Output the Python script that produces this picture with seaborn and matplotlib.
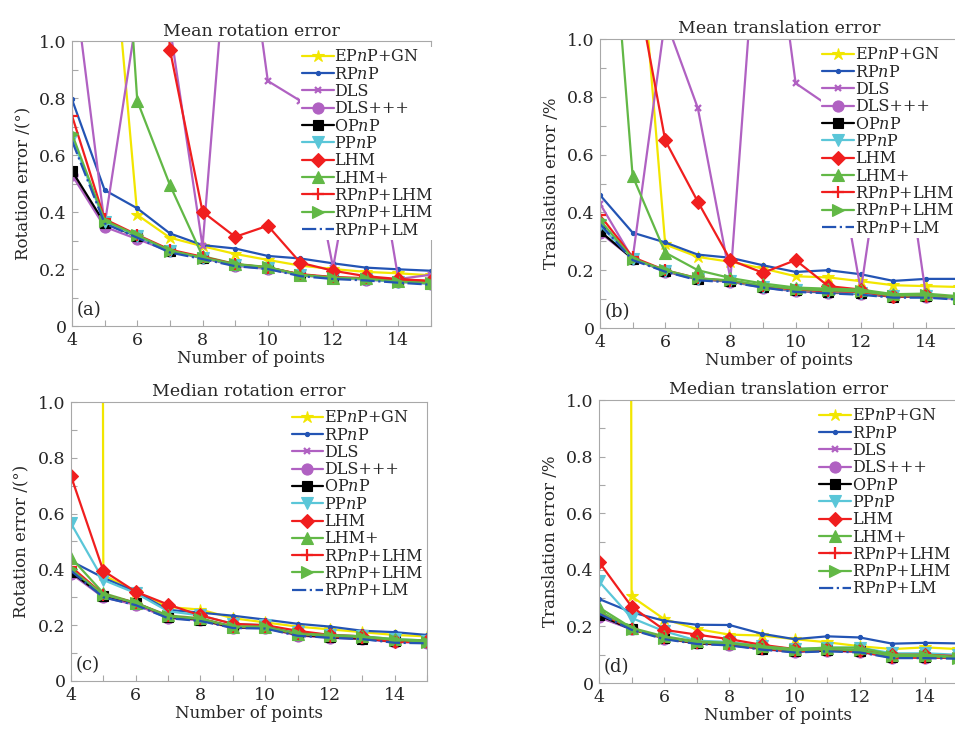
import matplotlib
matplotlib.use("Agg")
import matplotlib.pyplot as plt
import seaborn as sns
from matplotlib.ticker import FixedLocator, FuncFormatter

# Number of points on the x axis
POINTS = list(range(4, 16))

KEYS = ["epnp_gn", "rpnp", "dls", "dlsppp", "opnp", "ppnp",
        "lhm", "lhmp", "rpnp_lhm", "rpnp_lhm2", "rpnp_lm"]
LABELS = ["EP$n$P+GN", "RP$n$P", "DLS", "DLS+++", "OP$n$P", "PP$n$P",
          "LHM", "LHM+", "RP$n$P+LHM", "RP$n$P+LHM", "RP$n$P+LM"]

# (a) mean rotation error /(deg)
MEAN_ROT = {
    "epnp_gn":   [2.6, 1.69, 0.39, 0.31, 0.28, 0.253, 0.232, 0.212, 0.2, 0.19, 0.185, 0.178],
    "rpnp":      [0.795, 0.477, 0.413, 0.325, 0.284, 0.272, 0.246, 0.237, 0.22, 0.205, 0.199, 0.194],
    "dls":       [1.27, 0.355, 1.10, 1.05, 0.28, 1.7, 0.86, 0.79, 0.205, 0.85, 0.165, 0.18],
    "dlsppp":    [0.53, 0.348, 0.305, 0.262, 0.238, 0.212, 0.2, 0.178, 0.168, 0.163, 0.155, 0.148],
    "opnp":      [0.544, 0.36, 0.315, 0.265, 0.24, 0.215, 0.205, 0.18, 0.17, 0.165, 0.158, 0.15],
    "ppnp":      [0.66, 0.365, 0.315, 0.262, 0.24, 0.214, 0.203, 0.179, 0.168, 0.164, 0.155, 0.148],
    "lhm":       [5.0, 4.0, 3.0, 0.97, 0.401, 0.313, 0.352, 0.222, 0.194, 0.175, 0.165, 0.158],
    "lhmp":      [3.0, 2.5, 0.79, 0.495, 0.245, 0.218, 0.207, 0.18, 0.17, 0.167, 0.158, 0.15],
    "rpnp_lhm":  [0.738, 0.375, 0.32, 0.268, 0.243, 0.217, 0.205, 0.182, 0.172, 0.168, 0.163, 0.158],
    "rpnp_lhm2": [0.674, 0.37, 0.318, 0.265, 0.24, 0.217, 0.206, 0.18, 0.17, 0.166, 0.156, 0.15],
    "rpnp_lm":   [0.65, 0.36, 0.31, 0.258, 0.235, 0.21, 0.2, 0.175, 0.165, 0.16, 0.152, 0.145],
}

# (b) mean translation error /%
MEAN_TRANS = {
    "epnp_gn":   [2.5, 1.66, 0.289, 0.246, 0.229, 0.206, 0.179, 0.175, 0.162, 0.148, 0.145, 0.142],
    "rpnp":      [0.46, 0.33, 0.296, 0.254, 0.243, 0.217, 0.194, 0.2, 0.186, 0.163, 0.17, 0.17],
    "dls":       [0.43, 0.24, 1.07, 0.761, 0.17, 1.7, 0.847, 0.77, 0.13, 0.9, 0.11, 0.1],
    "dlsppp":    [0.33, 0.24, 0.195, 0.168, 0.16, 0.14, 0.127, 0.122, 0.118, 0.108, 0.108, 0.1],
    "opnp":      [0.335, 0.24, 0.198, 0.17, 0.162, 0.143, 0.13, 0.124, 0.12, 0.108, 0.11, 0.102],
    "ppnp":      [0.355, 0.24, 0.198, 0.17, 0.162, 0.142, 0.13, 0.125, 0.12, 0.11, 0.11, 0.102],
    "lhm":       [4.0, 1.26, 0.649, 0.437, 0.235, 0.191, 0.235, 0.145, 0.133, 0.11, 0.113, 0.105],
    "lhmp":      [1.96, 0.526, 0.261, 0.2, 0.173, 0.154, 0.14, 0.136, 0.133, 0.117, 0.119, 0.11],
    "rpnp_lhm":  [0.39, 0.245, 0.2, 0.172, 0.163, 0.145, 0.132, 0.127, 0.125, 0.108, 0.112, 0.105],
    "rpnp_lhm2": [0.373, 0.24, 0.2, 0.172, 0.165, 0.147, 0.135, 0.13, 0.127, 0.112, 0.113, 0.105],
    "rpnp_lm":   [0.36, 0.235, 0.195, 0.165, 0.158, 0.14, 0.125, 0.12, 0.115, 0.105, 0.105, 0.098],
}

# (c) median rotation error /(deg)
MED_ROT = {
    "epnp_gn":   [60.0, 0.38, 0.32, 0.265, 0.256, 0.225, 0.21, 0.195, 0.185, 0.175, 0.165, 0.16],
    "rpnp":      [0.43, 0.37, 0.32, 0.255, 0.245, 0.234, 0.22, 0.205, 0.195, 0.18, 0.175, 0.165],
    "dls":       [0.39, 0.302, 0.275, 0.228, 0.218, 0.192, 0.19, 0.165, 0.156, 0.152, 0.14, 0.138],
    "dlsppp":    [0.385, 0.30, 0.273, 0.226, 0.218, 0.19, 0.19, 0.163, 0.155, 0.15, 0.14, 0.137],
    "opnp":      [0.39, 0.305, 0.28, 0.23, 0.22, 0.192, 0.192, 0.166, 0.157, 0.152, 0.142, 0.138],
    "ppnp":      [0.565, 0.362, 0.315, 0.25, 0.235, 0.205, 0.2, 0.175, 0.165, 0.16, 0.15, 0.145],
    "lhm":       [0.735, 0.395, 0.32, 0.274, 0.235, 0.205, 0.2, 0.18, 0.165, 0.16, 0.145, 0.145],
    "lhmp":      [0.442, 0.315, 0.28, 0.235, 0.225, 0.195, 0.195, 0.17, 0.165, 0.16, 0.15, 0.145],
    "rpnp_lhm":  [0.41, 0.31, 0.28, 0.232, 0.222, 0.195, 0.193, 0.168, 0.16, 0.155, 0.14, 0.14],
    "rpnp_lhm2": [0.40, 0.31, 0.28, 0.232, 0.222, 0.195, 0.193, 0.168, 0.162, 0.157, 0.148, 0.14],
    "rpnp_lm":   [0.395, 0.30, 0.272, 0.225, 0.215, 0.19, 0.188, 0.162, 0.155, 0.15, 0.137, 0.135],
}

# (d) median translation error /%
MED_TRANS = {
    "epnp_gn":   [60.0, 0.306, 0.226, 0.191, 0.171, 0.168, 0.155, 0.144, 0.13, 0.12, 0.126, 0.12],
    "rpnp":      [0.297, 0.25, 0.22, 0.206, 0.205, 0.174, 0.155, 0.165, 0.161, 0.139, 0.142, 0.14],
    "dls":       [0.235, 0.19, 0.158, 0.14, 0.135, 0.12, 0.11, 0.115, 0.11, 0.09, 0.09, 0.088],
    "dlsppp":    [0.232, 0.19, 0.157, 0.14, 0.134, 0.12, 0.11, 0.114, 0.11, 0.09, 0.09, 0.088],
    "opnp":      [0.24, 0.19, 0.16, 0.14, 0.137, 0.122, 0.112, 0.115, 0.112, 0.092, 0.092, 0.09],
    "ppnp":      [0.359, 0.23, 0.183, 0.15, 0.145, 0.13, 0.12, 0.125, 0.125, 0.105, 0.105, 0.1],
    "lhm":       [0.428, 0.27, 0.188, 0.171, 0.155, 0.135, 0.12, 0.12, 0.115, 0.1, 0.1, 0.095],
    "lhmp":      [0.267, 0.195, 0.165, 0.147, 0.142, 0.13, 0.12, 0.125, 0.125, 0.1, 0.1, 0.092],
    "rpnp_lhm":  [0.25, 0.19, 0.16, 0.142, 0.138, 0.122, 0.112, 0.118, 0.112, 0.09, 0.09, 0.09],
    "rpnp_lhm2": [0.255, 0.192, 0.16, 0.143, 0.14, 0.125, 0.115, 0.12, 0.115, 0.095, 0.095, 0.09],
    "rpnp_lm":   [0.245, 0.188, 0.155, 0.138, 0.133, 0.118, 0.108, 0.112, 0.108, 0.088, 0.088, 0.086],
}

YELLOW = "#f2e600"
BLUE = "#2354b4"
PURPLE = "#b061c2"
CYAN = "#5ac6d8"
RED = "#f01e1e"
GREEN = "#62b846"

STYLE = {
    "epnp_gn":   dict(c=YELLOW, m="*", ms=9, ls="-"),
    "rpnp":      dict(c=BLUE, m="o", ms=3, ls="-"),
    "dls":       dict(c=PURPLE, m="x", ms=5, ls="-"),
    "dlsppp":    dict(c=PURPLE, m="o", ms=8, ls="-"),
    "opnp":      dict(c="black", m="s", ms=7, ls="-"),
    "ppnp":      dict(c=CYAN, m="v", ms=8, ls="-"),
    "lhm":       dict(c=RED, m="D", ms=7, ls="-"),
    "lhmp":      dict(c=GREEN, m="^", ms=8, ls="-"),
    "rpnp_lhm":  dict(c=RED, m="+", ms=9, ls="-"),
    "rpnp_lhm2": dict(c=GREEN, m=">", ms=8, ls="-"),
    "rpnp_lm":   dict(c=BLUE, m=None, ms=0, ls="-."),
}

sns.set_style("ticks")
plt.rcParams["font.family"] = ["DejaVu Serif"]
plt.rcParams["mathtext.fontset"] = "dejavuserif"

SPINE = "#a8a8a8"


def draw_panel(ax, values, title, ylabel, tag, leg_x):
    for key, label in zip(KEYS, LABELS):
        st = STYLE[key]
        kws = dict(color=st["c"], linestyle=st["ls"], linewidth=1.6, label=label)
        if st["m"]:
            mew = 1.6 if st["m"] in ("x", "+") else 0.8
            kws.update(marker=st["m"], markersize=st["ms"], markeredgecolor=st["c"],
                       markerfacecolor=st["c"], markeredgewidth=mew)
        sns.lineplot(x=POINTS, y=values[key], ax=ax, **kws)

    ax.set_xlim(4, 15)
    ax.set_ylim(0, 1.0)
    ax.xaxis.set_major_locator(FixedLocator([4, 6, 8, 10, 12, 14]))
    ax.xaxis.set_minor_locator(FixedLocator([5, 7, 9, 11, 13, 15]))
    ax.yaxis.set_major_locator(FixedLocator([0, 0.2, 0.4, 0.6, 0.8, 1.0]))
    ax.yaxis.set_minor_locator(FixedLocator([0.1, 0.3, 0.5, 0.7, 0.9]))
    ax.yaxis.set_major_formatter(FuncFormatter(lambda v, p: "0" if v == 0 else f"{v:.1f}"))
    ax.tick_params(which="both", direction="in", length=4, color=SPINE, width=0.8)
    ax.tick_params(which="major", labelsize=12.5, pad=4)
    for sp in ax.spines.values():
        sp.set_color(SPINE)
        sp.set_linewidth(0.8)

    ax.set_title(title, fontsize=12.5, pad=4)
    ax.set_xlabel("Number of points", fontsize=12, labelpad=1)
    ax.set_ylabel(ylabel, fontsize=12, labelpad=5)
    ax.text(0.012, 0.025, tag, transform=ax.transAxes, fontsize=13, ha="left", va="bottom")

    ax.legend(loc="upper left", bbox_to_anchor=(leg_x, 0.98), fontsize=11.5,
              frameon=True, framealpha=1, facecolor="white", edgecolor="none",
              fancybox=False, borderpad=0.1, labelspacing=0.02, handlelength=2.0,
              handletextpad=0.05, borderaxespad=0, numpoints=1)


fig = plt.figure(figsize=(9.55, 7.32), dpi=100)
ax_a = fig.add_axes([0.0754, 0.5546, 0.3759, 0.3893])
ax_b = fig.add_axes([0.6283, 0.5519, 0.3755, 0.3948])
ax_c = fig.add_axes([0.0743, 0.0697, 0.3728, 0.3811])
ax_d = fig.add_axes([0.6272, 0.0669, 0.3756, 0.3866])

draw_panel(ax_a, MEAN_ROT, "Mean rotation error", "Rotation error /(°)", "(a)", 0.635)
draw_panel(ax_b, MEAN_TRANS, "Mean translation error", "Translation error /%", "(b)", 0.615)
draw_panel(ax_c, MED_ROT, "Median rotation error", "Rotation error /(°)", "(c)", 0.615)
draw_panel(ax_d, MED_TRANS, "Median translation error", "Translation error /%", "(d)", 0.61)

fig.savefig("out.png", dpi=100, facecolor="white")
